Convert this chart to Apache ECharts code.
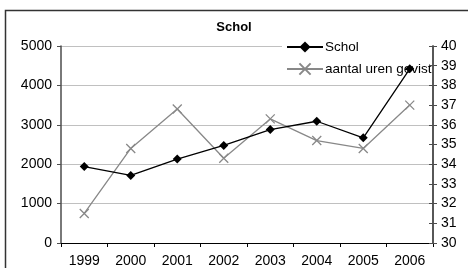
<!DOCTYPE html>
<html>
<head>
<meta charset="utf-8">
<script src="https://cdn.jsdelivr.net/npm/echarts@6/dist/echarts.min.js"></script>
<style>html,body{margin:0;padding:0;background:#fff}#c{width:468px;height:268px}</style>
</head>
<body>
<div id="c"></div>
<script>
var categories = ['1999','2000','2001','2002','2003','2004','2005','2006'];
var scholValues = [1940, 1715, 2130, 2475, 2880, 3090, 2670, 4420];
var urenValues = [31.5, 34.8, 36.8, 34.3, 36.3, 35.2, 34.8, 37.0];
var seriesNames = ['Schol', 'aantal uren gevist'];
var titleText = 'Schol';

var chart = echarts.init(document.getElementById('c'), null, {renderer: 'canvas'});
var font = 'Liberation Sans';
chart.setOption({
  animation: false,
  backgroundColor: '#fff',
  graphic: [{
    type: 'rect', silent: true, z: -1,
    shape: {x: 5.5, y: 10.5, width: 470, height: 300},
    style: {fill: 'none', stroke: '#333', lineWidth: 1.5}
  }],
  title: {
    text: titleText, left: 'center', top: 21, padding: 0,
    textStyle: {fontFamily: font, fontSize: 13, fontWeight: 'bold', color: '#000'}
  },
  legend: {
    orient: 'vertical', left: 282, top: 37, padding: [3, 0, 3, 4], z: 1,
    backgroundColor: '#fff', itemGap: 8, itemWidth: 36, itemHeight: 14,
    textStyle: {fontFamily: font, fontSize: 13.5, color: '#000', padding: [0, 0, 0, -3]},
    data: seriesNames
  },
  grid: {left: 61, right: 35, top: 46, bottom: 24, containLabel: false},
  xAxis: {
    type: 'category', data: categories, boundaryGap: true,
    axisLine: {lineStyle: {color: '#000', width: 1}},
    axisTick: {show: true, length: 4, lineStyle: {color: '#000'}},
    axisLabel: {fontFamily: font, fontSize: 14, color: '#000', margin: 11},
    splitLine: {show: false}
  },
  yAxis: [{
    type: 'value', min: 0, max: 5000, interval: 1000, z: 0,
    axisLine: {show: true, lineStyle: {color: '#4d4d4d', width: 1.5}},
    axisTick: {show: true, length: 4, lineStyle: {color: '#4d4d4d'}},
    axisLabel: {fontFamily: font, fontSize: 14, color: '#000', margin: 9, formatter: function (v) { return String(v); }},
    splitLine: {show: true, lineStyle: {color: '#c0c0c0', width: 1}}
  }, {
    type: 'value', min: 30, max: 40, interval: 1, position: 'right', z: 3,
    axisLine: {show: true, lineStyle: {color: '#4d4d4d', width: 1.5}},
    axisTick: {show: true, length: 4, lineStyle: {color: '#4d4d4d'}},
    axisLabel: {fontFamily: font, fontSize: 14, color: '#000', margin: 8},
    splitLine: {show: false}
  }, {
    type: 'value', min: 30, max: 40, interval: 1, position: 'right', z: 3,
    axisLine: {show: true, lineStyle: {color: '#4d4d4d', width: 1.5}},
    axisTick: {show: true, inside: true, length: 4, lineStyle: {color: '#4d4d4d'}},
    axisLabel: {show: false},
    splitLine: {show: false}
  }],
  series: [{
    name: seriesNames[0], type: 'line', yAxisIndex: 0, data: scholValues, z: 4,
    symbol: 'diamond', symbolSize: 9,
    itemStyle: {color: '#000'},
    lineStyle: {color: '#000', width: 1.3}
  }, {
    name: seriesNames[1], type: 'line', yAxisIndex: 1, data: urenValues, z: 3,
    symbol: 'path://M0,0L10,10M10,0L0,10', symbolSize: 9,
    itemStyle: {color: '#888', borderColor: '#888', borderWidth: 1.3},
    lineStyle: {color: '#888', width: 1.3}
  }]
});
</script>
</body>
</html>
